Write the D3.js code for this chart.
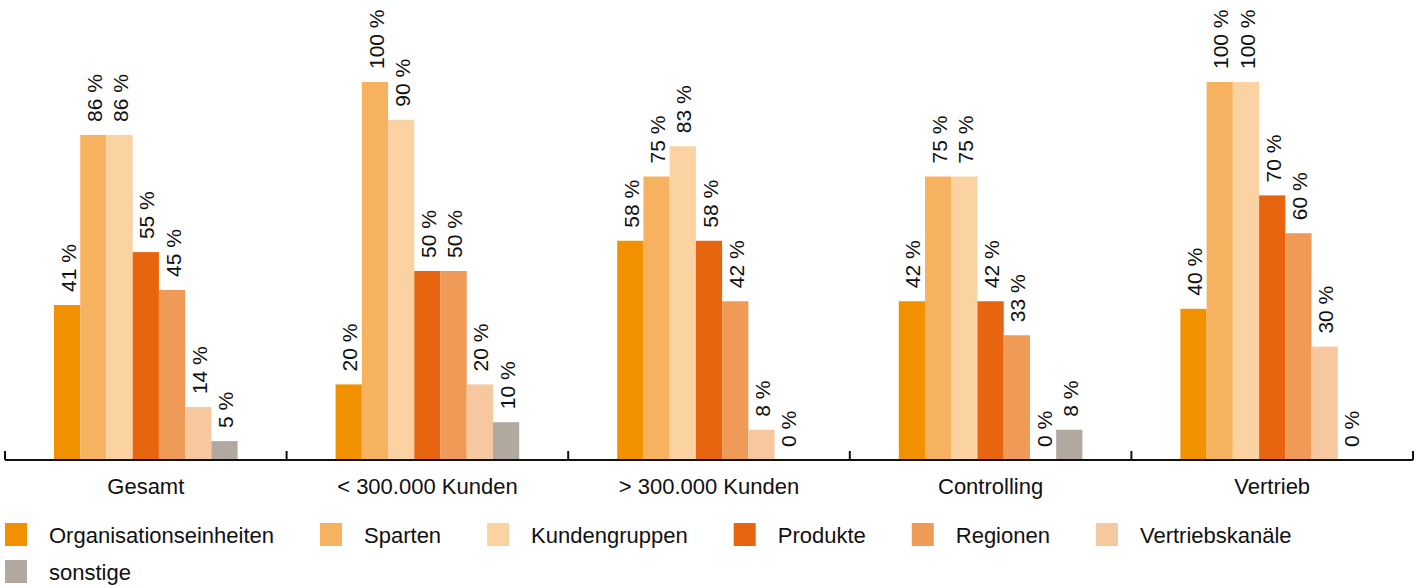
<!DOCTYPE html>
<html>
<head>
<meta charset="utf-8">
<script src="https://cdn.jsdelivr.net/npm/d3@7"></script>
<style>
  body { margin: 0; background: #fff; }
  svg { display: block; font-family: "Liberation Sans", Arial, Helvetica, sans-serif; }
  .valueLabel { font-size: 21px; fill: #111; }
  .groupLabel { font-size: 22px; fill: #111; }
  .legendText { font-size: 22px; fill: #111; }
</style>
</head>
<body>
<svg width="1420" height="586"></svg>
<script>
// Categories (x groups)
let groups = ["Gesamt", "< 300.000 Kunden", "> 300.000 Kunden", "Controlling", "Vertrieb"]

// Series
let seriesNames = ["Organisationseinheiten", "Sparten", "Kundengruppen", "Produkte", "Regionen", "Vertriebskanäle", "sonstige"]
let seriesColors = ["#F29100", "#F7B260", "#FBD3A3", "#E8650F", "#F09A58", "#F7C7A0", "#B1A8A0"]

// Values per series, one per group (percent)
let organisationseinheiten = [41, 20, 58, 42, 40]
let sparten = [86, 100, 75, 75, 100]
let kundengruppen = [86, 90, 83, 75, 100]
let produkte = [55, 50, 58, 42, 70]
let regionen = [45, 50, 42, 33, 60]
let vertriebskanaele = [14, 20, 8, 0, 30]
let sonstige = [5, 10, 0, 8, 0]

let seriesValues = [organisationseinheiten, sparten, kundengruppen, produkte, regionen, vertriebskanaele, sonstige]

// Flatten into one row per bar
let data = []
groups.forEach((g, gi) => {
  seriesNames.forEach((s, si) => {
    data.push({ group: g, series: s, value: seriesValues[si][gi], color: seriesColors[si] })
  })
})

let svg = d3.select('svg')
let axisY = 460

// Scales
let x0 = d3.scaleBand()
  .domain(groups)
  .range([5, 1413])

let x1 = d3.scaleBand()
  .domain(seriesNames)
  .range([49, x0.bandwidth() - 49])

let y = d3.scaleLinear()
  .domain([0, 100])
  .range([axisY, 82])

// Bars
svg.append('g')
  .selectAll('rect')
  .data(data)
  .enter()
  .append('rect')
  .attr('x', d => x0(d.group) + x1(d.series))
  .attr('y', d => y(d.value))
  .attr('width', x1.bandwidth())
  .attr('height', d => axisY - y(d.value))
  .style('fill', d => d.color)

// Value labels, rotated
svg.append('g')
  .selectAll('text')
  .data(data)
  .enter()
  .append('text')
  .attr('class', 'valueLabel')
  .attr('transform', d => `translate(${x0(d.group) + x1(d.series) + x1.bandwidth() / 2 + 1},${y(d.value) - 13}) rotate(-90)`)
  .attr('dy', '0.36em')
  .text(d => d.value + ' %')

// X axis line with ticks at group boundaries
let axis = svg.append('g').attr('id', 'x-axis')
let bounds = groups.map(g => x0(g)).concat([x0.range()[1]])

axis.append('line')
  .attr('x1', bounds[0])
  .attr('x2', bounds[bounds.length - 1])
  .attr('y1', axisY)
  .attr('y2', axisY)
  .style('stroke', '#111')
  .style('stroke-width', 2)

axis.selectAll('.tick')
  .data(bounds)
  .enter()
  .append('line')
  .attr('class', 'tick')
  .attr('x1', d => d)
  .attr('x2', d => d)
  .attr('y1', axisY)
  .attr('y2', axisY - 9)
  .style('stroke', '#111')
  .style('stroke-width', 2)

// Group labels
axis.selectAll('.groupLabel')
  .data(groups)
  .enter()
  .append('text')
  .attr('class', 'groupLabel')
  .attr('x', d => x0(d) + x0.bandwidth() / 2)
  .attr('y', 494)
  .attr('text-anchor', 'middle')
  .text(d => d)

// Legend, flowing left to right and wrapping
let legend = svg.append('g').attr('id', 'legend')
let lx = 5, ly = 523
seriesNames.forEach((s, i) => {
  let item = legend.append('g')
  item.append('rect')
    .attr('width', 22)
    .attr('height', 23)
    .style('fill', seriesColors[i])
  let t = item.append('text')
    .attr('class', 'legendText')
    .attr('x', 44)
    .attr('y', 20)
    .text(s)
  let w = 44 + t.node().getComputedTextLength()
  if (lx + w > 1420) {
    lx = 5
    ly += 37
  }
  item.attr('transform', `translate(${lx},${ly})`)
  lx += w + 46
})
</script>
</body>
</html>
